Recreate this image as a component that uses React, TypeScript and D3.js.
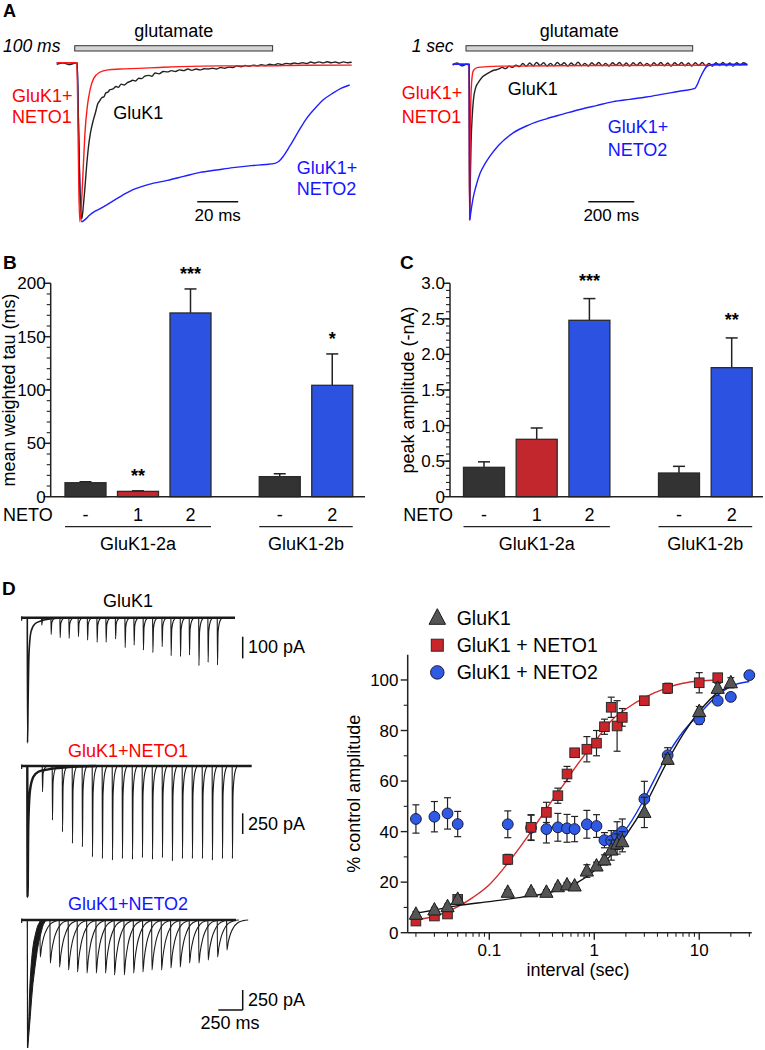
import React from 'react';
import * as d3 from 'd3';

const FONT = "'Liberation Sans', Arial, Helvetica, sans-serif";
const RED_TRACE = '#ff1a1a';
const BLUE_TRACE = '#1f1fff';
const BLACK_TRACE = '#222222';
const RED_TEXT = '#ff0000';
const BLUE_TEXT = '#1414ff';
const AXIS = '#222222';

type P = [number, number];

// ================= Panel A data (time in ms, current as fraction of peak) =================
const glutamate100 = [8.8, 105.4];
const glutamate1s = [57.8, 1043.5];
const scaleBar100 = [68.6, 88.6];
const scaleBar1s = [589.6, 789.6];

const red100: P[] = [[0, 0], [9.8, 0], [10.3, 0.3], [10.8, 0.8], [11.3, 1.0], [12, 0.9], [13, 0.65], [13.8, 0.44], [15, 0.27], [16.3, 0.17], [18, 0.1], [21, 0.06], [25, 0.045], [31, 0.04], [40, 0.036], [50, 0.03], [60, 0.025], [80, 0.02], [100, 0.02], [120, 0.016], [144, 0.015]];
const black100: P[] = [[0, 0.01], [3, 0], [6, 0.012], [9, 0.002], [10, 0], [10.5, 0.3], [11.5, 0.85], [12.3, 0.98], [13, 0.9], [14, 0.75], [14.6, 0.65], [15.5, 0.53], [16.5, 0.44], [17.9, 0.36], [19, 0.31], [20, 0.26], [21, 0.24], [22, 0.22], [23, 0.215], [24, 0.19], [25, 0.185], [26, 0.17], [27.5, 0.165], [29, 0.15], [30, 0.155], [31.5, 0.135], [33, 0.14], [34.5, 0.125], [36, 0.118], [37, 0.11], [38.5, 0.115], [40, 0.098], [41.5, 0.1], [43, 0.085], [45, 0.08], [46.5, 0.085], [48, 0.065], [50, 0.07], [52, 0.055], [54, 0.058], [56, 0.05], [58, 0.055], [60, 0.045], [62, 0.05], [64, 0.04], [66, 0.048], [68, 0.04], [70, 0.045], [72, 0.038], [74, 0.04], [76, 0.035], [78, 0.04], [80, 0.03], [82, 0.035], [84, 0.028], [86, 0.03], [88, 0.02], [90, 0.025], [92, 0.018], [94, 0.022], [96, 0.015], [98, 0.02], [100, 0.012], [102, 0.018], [104, 0.01], [106, 0.014], [108, 0.006], [110, 0.012], [112, 0.004], [114, 0.008], [116, 0.002], [118, 0.006], [120, 0], [122, 0.005], [124, -0.004], [126, 0.002], [128, -0.005], [130, 0.001], [132, -0.006], [134, 0], [136, -0.004], [138, 0.002], [140, -0.005], [142, 0], [144, -0.003]];
const blue100: P[] = [[0, 0], [10, 0], [10.5, 0.3], [11.3, 0.8], [12.2, 1.0], [13.5, 0.99], [16, 0.96], [18, 0.94], [21, 0.92], [25, 0.89], [30, 0.85], [37, 0.8], [45, 0.765], [54, 0.74], [62, 0.715], [70, 0.69], [78, 0.675], [86, 0.66], [95, 0.647], [102, 0.64], [106.5, 0.633], [108.5, 0.62], [110.5, 0.59], [114, 0.52], [118.6, 0.42], [122, 0.35], [126.8, 0.277], [130, 0.235], [135, 0.19], [139, 0.16], [143, 0.14]];

const red1s: P[] = [[0, 0], [71.5, 0], [72.5, 0.6], [73.5, 1.0], [75, 0.7], [78, 0.3], [82, 0.12], [90, 0.04], [110, 0.02], [200, 0.012], [600, 0.008], [1000, 0.006], [1281, 0.005]];
const black1s: P[] = [[0, 0.005], [20, -0.008], [40, 0.01], [60, 0], [71, 0.004], [72.5, 0.5], [74, 0.95], [76, 0.8], [80, 0.5], [85, 0.33], [90, 0.23], [100, 0.15], [110, 0.12], [119, 0.1], [130, 0.08], [140, 0.07], [150, 0.06], [162, 0.05], [175, 0.04], [190, 0.035], [200, 0.03], [215, 0.02], [230, 0.028], [245, 0.012], [260, 0.02], [275, 0.005], [290, 0.015], [305, -0.005], [320, 0.012], [335, -0.008], [350, 0.01], [365, -0.012], [380, 0.008], [395, -0.01], [410, 0.012], [425, -0.006], [440, 0.01], [455, -0.012], [470, 0.006], [485, -0.01], [500, 0.012], [515, -0.008], [530, 0.008], [545, -0.014], [560, 0.01], [575, -0.006], [590, 0.012], [605, -0.01], [620, 0.008], [635, -0.012], [650, 0.01], [665, -0.006], [680, 0.012], [695, -0.01], [710, 0.006], [725, -0.012], [740, 0.01], [755, -0.008], [770, 0.012], [785, -0.01], [800, 0.008], [815, -0.012], [830, 0.01], [845, -0.006], [860, 0.012], [875, -0.01], [890, 0.008], [905, -0.012], [920, 0.01], [935, -0.008], [950, 0.012], [965, -0.01], [980, 0.006], [995, -0.012], [1010, 0.01], [1025, -0.008], [1040, 0.012], [1055, -0.01], [1070, 0.008], [1085, -0.012], [1100, 0.01], [1115, -0.006], [1130, 0.012], [1145, -0.01], [1160, 0.008], [1175, -0.012], [1190, 0.01], [1205, -0.008], [1220, 0.012], [1235, -0.01], [1250, 0.006], [1265, -0.01], [1281, 0.004]];
const blue1s: P[] = [[0, 0], [72, 0], [73, 0.6], [74, 1.0], [78, 0.96], [84, 0.9], [90, 0.85], [100, 0.79], [119, 0.7], [140, 0.64], [162, 0.59], [200, 0.52], [263, 0.44], [330, 0.39], [408, 0.35], [480, 0.32], [553, 0.29], [625, 0.265], [698, 0.24], [770, 0.225], [843, 0.21], [920, 0.19], [1000, 0.17], [1053, 0.155], [1060, 0.14], [1075, 0.09], [1090, 0.045], [1104, 0.015], [1120, 0.005], [1140, 0], [1281, 0]];

// ================= Panels B & C data =================
const netoLabels = ['-', '1', '2', '-', '2'];
const barGroups = ['a', 'a', 'a', 'b', 'b'];
const groupNames: Record<string, string> = { a: 'GluK1-2a', b: 'GluK1-2b' };
const tauMean = [13.1, 5.0, 172.2, 18.8, 104.4];
const tauSem = [0.9, 0.5, 22.5, 2.7, 29.4];
const tauStars = ['', '**', '***', '', '*'];
const ampMean = [0.413, 0.807, 2.48, 0.333, 1.814];
const ampSem = [0.077, 0.159, 0.305, 0.094, 0.418];
const ampStars = ['', '', '***', '', '**'];
const tauTicks = [0, 50, 100, 150, 200];
const ampTicks = [0, 0.5, 1.0, 1.5, 2.0, 2.5, 3.0];
const BAR_COLORS: Record<string, string> = { '-': '#333333', '1': '#c1272d', '2': '#2b52e0' };

// ================= Panel D data =================
const intervals = [0.02, 0.03, 0.04, 0.05, 0.15, 0.25, 0.35, 0.45, 0.55, 0.65, 0.85, 1.05, 1.25, 1.45, 1.65, 1.85, 3, 5, 10, 15, 20, 30];
const gluk1Amp = [7.3, 9.0, 10.3, 13.2, 16.0, 16.2, 16.0, 18.2, 18.9, 18.5, 24.4, 26.4, 28.8, 32.7, 35.1, 36.0, 47.6, 68.6, 87.5, 96.7, 98.9, null];
const gluk1Err = [1, 1, 1, 1, 1, 1, 1, 1, 1, 1, 2.5, 1.5, 2, 4, 4, 4, 6, 2, 2, 2, 2, null];
const neto1Amp = [4.6, 6.6, 7.4, 13.2, 29.0, 41.7, 47.6, 54.2, 62.8, 71.2, 72.6, 75.0, 81.5, 89.2, 81.8, 85.2, 91.8, 96.7, 98.9, 100.9, null, null];
const neto1Err = [1, 1, 1, 1.5, 2, 5, 4, 3, 3, 1, 5, 5, 3, 4, 10, 3.5, 1, 2, 4, 1, null, null];
const neto2Amp = [45.0, 45.9, 47.2, 43.0, 42.9, 41.5, 41.0, 41.7, 41.3, 41.0, 42.9, 42.2, 36.6, 36.4, 38.4, 40.0, 52.9, 70.2, 84.4, 91.8, 93.3, 101.9];
const neto2Err = [5.6, 6, 6.2, 5, 5.3, 5, 5.5, 5.5, 5.5, 5, 5.5, 4.5, 3, 4, 5.5, 5, 7, 3, 2, 1, 1, 0.5];

const fitNeto1X = [0.019, 0.03, 0.04, 0.05, 0.07, 0.1, 0.15, 0.25, 0.35, 0.45, 0.55, 0.65, 0.85, 1.05, 1.5, 2, 3, 5, 7, 10, 15];
const fitNeto1Y = [5, 6.5, 8.3, 10.3, 14, 19, 27.5, 40, 49, 55.5, 60.5, 65, 71.5, 76.5, 84.5, 88.5, 93, 97, 98.7, 99.6, 100];
const fitGluk1X = [0.019, 0.03, 0.05, 0.1, 0.2, 0.35, 0.5, 0.7, 1, 1.5, 2, 3, 5, 7, 10, 15, 20];
const fitGluk1Y = [7.5, 9, 10.7, 12.3, 14, 15.6, 17.5, 20, 24.5, 31.5, 38.5, 50, 68, 78.5, 87.5, 95, 97.5];
const fitNeto2X = [1.8, 2, 3, 5, 7, 10, 15, 20, 30];
const fitNeto2Y = [39, 41, 53, 70.5, 79.5, 86.5, 94, 97.5, 99.4];

// traces in D (time ms relative to conditioning pulse, current in pA)
const dPulse1 = [145, 241, 333, 425, 520, 614, 712, 804, 901, 999, 1091, 1186, 1283, 1378, 1470, 1566, 1658, 1755, 1849, 1945];
const dAmp1 = [34, 77, 92, 95, 87, 103, 113, 113, 98, 138, 126, 149, 161, 133, 175, 179, 172, 221, 205, 218];
const dDecay1: P[] = [[-2, 0], [0.5, 577], [6, 400], [15, 172], [36, 64], [77, 28], [145, 14], [250, 5], [400, 0]];
const dPulse2 = [152, 254, 357, 459, 561, 664, 766, 869, 971, 1074, 1176, 1279, 1381, 1483, 1586, 1688, 1791, 1893, 1996, 2098];
const dAmp2 = [311, 653, 795, 935, 976, 1097, 1117, 1137, 1117, 1127, 1107, 1127, 1107, 1147, 1117, 1117, 1117, 1137, 1117, 1117];
const dDecay2: P[] = [[-2, 0], [1, 1580], [8, 734], [26, 290], [59, 133], [111, 69], [213, 40], [400, 15], [700, 0]];
const dPulse3 = [128, 231, 326, 418, 510, 607, 702, 797, 889, 989, 1085, 1180, 1273, 1371, 1467, 1562, 1658, 1754, 1849, 1945, 2041];
const dAmp3 = [463, 538, 588, 625, 650, 663, 663, 663, 688, 688, 663, 650, 625, 625, 600, 588, 538, 538, 500, 463, 375];
const dBand3Amp = [1600, 1413, 588, 163, 21, 0];
const dBand3Fast = [0.5, 8, 36, 84, 128, 159];
const dBand3Slow = [1.5, 15, 77, 138, 179, 210];
const dTraceEnd = [2126, 2297, 2136];

// ================= helpers =================
function mkLine(x: (v: number) => number, y: (v: number) => number) {
  return d3.line<P>().x(d => x(d[0])).y(d => y(d[1])).curve(d3.curveMonotoneX);
}

function TracePanel(props: any) {
  const { x0, x1, tMax, base, peak, glut, sbar, traces, timeLabel, timeLabelX, sbarLabel } = props;
  const x = d3.scaleLinear().domain([0, tMax]).range([x0, x1]);
  const y = d3.scaleLinear().domain([0, 1]).range([base, peak]);
  const line = mkLine(x, y);
  return (
    <g>
      <text x={timeLabelX} y={52} fontSize={17.5} fontStyle="italic">{timeLabel}</text>
      <rect x={x(glut[0])} y={45.7} width={x(glut[1]) - x(glut[0])} height={5.3} fill="#d4d4d4" stroke="#333" strokeWidth={1} />
      <text x={(x(glut[0]) + x(glut[1])) / 2} y={37} fontSize={18} textAnchor="middle">glutamate</text>
      {traces.map((t: any, i: number) => (
        <path key={i} d={line(t.data) || ''} fill="none" stroke={t.color} strokeWidth={1.4} strokeLinejoin="round" />
      ))}
      <line x1={x(sbar[0])} x2={x(sbar[1])} y1={201.7} y2={201.7} stroke="#111" strokeWidth={1.5} />
      <text x={(x(sbar[0]) + x(sbar[1])) / 2} y={221} fontSize={17} textAnchor="middle">{sbarLabel}</text>
    </g>
  );
}

function BarPanel(props: any) {
  const { axisX, axisEnd, yMax, ticks, minorStep, fmt, means, sems, stars, firstCenter, slotW, title, titleX, netoX, starGap } = props;
  const y = d3.scaleLinear().domain([0, yMax]).range([496.7, 283.3]);
  const slot = (i: number) => i + (barGroups[i] === 'b' ? 0.7 : 0);
  const xc = d3.scaleLinear().domain([0, 1]).range([firstCenter, firstCenter + slotW]);
  const bw = 41;
  const minor = d3.range(0, yMax + 1e-6, minorStep);
  const groups = Array.from(new Set(barGroups));
  return (
    <g>
      {minor.map((v, i) => (
        <line key={'m' + i} x1={axisX - 4} x2={axisX} y1={y(v)} y2={y(v)} stroke={AXIS} strokeWidth={1.1} />
      ))}
      {ticks.map((v: number, i: number) => (
        <g key={'t' + i}>
          <line x1={axisX - 7} x2={axisX} y1={y(v)} y2={y(v)} stroke={AXIS} strokeWidth={1.4} />
          <text x={axisX - 5} y={y(v) + 6} fontSize={17} textAnchor="end">{fmt(v)}</text>
        </g>
      ))}
      <text transform={`translate(${titleX},${(283.3 + 496.7) / 2}) rotate(-90)`} fontSize={18} textAnchor="middle">{title}</text>
      {means.map((m: number, i: number) => {
        const cx = xc(slot(i));
        const top = y(m + sems[i]);
        return (
          <g key={'b' + i}>
            <line x1={cx} x2={cx} y1={y(m)} y2={top} stroke="#222" strokeWidth={1.5} />
            <line x1={cx - 6} x2={cx + 6} y1={top} y2={top} stroke="#222" strokeWidth={1.5} />
            <rect x={cx - bw / 2} y={y(m)} width={bw} height={y(0) - y(m)} fill={BAR_COLORS[netoLabels[i]]} stroke="#2a2a2a" strokeWidth={1.3} />
            {stars[i] ? (
              <text x={cx} y={top - starGap} fontSize={18} fontWeight="bold" textAnchor="middle">{stars[i]}</text>
            ) : null}
            <text x={cx} y={520.7} fontSize={18} textAnchor="middle">{netoLabels[i]}</text>
          </g>
        );
      })}
      <line x1={axisX} x2={axisX} y1={283.3} y2={496.7} stroke={AXIS} strokeWidth={1.5} />
      <line x1={axisX} x2={axisEnd} y1={496.7} y2={496.7} stroke={AXIS} strokeWidth={1.5} />
      <text x={netoX} y={520.7} fontSize={18}>NETO</text>
      {groups.map(g => {
        const idx = barGroups.map((b, i) => (b === g ? i : -1)).filter(i => i >= 0);
        const l = xc(slot(idx[0])) - bw / 2;
        const r = xc(slot(idx[idx.length - 1])) + bw / 2;
        return (
          <g key={g}>
            <line x1={l} x2={r} y1={526.7} y2={526.7} stroke="#222" strokeWidth={1.3} />
            <text x={(l + r) / 2} y={550} fontSize={18} textAnchor="middle">{groupNames[g]}</text>
          </g>
        );
      })}
    </g>
  );
}

function triPath(cx: number, cy: number, s: number) {
  return `M${cx},${cy - s * 0.62}L${cx + s * 0.55},${cy + s * 0.42}L${cx - s * 0.55},${cy + s * 0.42}Z`;
}

function Marker({ kind, cx, cy, big }: any) {
  const k = big ? 1.25 : 1;
  if (kind === 'tri') return <path d={triPath(cx, cy, 12 * k)} fill="#555555" stroke="#1a1a1a" strokeWidth={1} />;
  if (kind === 'sq') return <rect x={cx - 4.8 * k} y={cy - 4.8 * k} width={9.6 * k} height={9.6 * k} fill="#c9252b" stroke="#2a2a2a" strokeWidth={1} />;
  return <circle cx={cx} cy={cy} r={5.4 * k} fill="#2f5ae4" stroke="#1a1a40" strokeWidth={1} />;
}

function Scatter() {
  const xs = d3.scaleLog().domain([0.0167, 31.6]).range([407.7, 751.7]);
  const ys = d3.scaleLinear().domain([0, 110]).range([932.7, 654.7]);
  const fitLine = d3.line<P>().x(d => xs(d[0])).y(d => ys(d[1])).curve(d3.curveMonotoneX);
  const majors = [0.1, 1, 10];
  const minors: number[] = [];
  [0.01, 0.1, 1, 10].forEach(dec => {
    for (let k = 2; k <= 9; k++) {
      const v = dec * k;
      if (v >= 0.0167 && v <= 31.6) minors.push(v);
    }
  });
  const yMajor = [0, 20, 40, 60, 80, 100];
  const yMinor = [10, 30, 50, 70, 90];
  const series = [
    { kind: 'circ', amp: neto2Amp, err: neto2Err },
    { kind: 'sq', amp: neto1Amp, err: neto1Err },
    { kind: 'tri', amp: gluk1Amp, err: gluk1Err },
  ];
  const zip = (a: number[], b: number[]) => a.map((v, i) => [v, b[i]] as P);
  const legend = [
    { kind: 'tri', label: 'GluK1' },
    { kind: 'sq', label: 'GluK1 + NETO1' },
    { kind: 'circ', label: 'GluK1 + NETO2' },
  ];
  return (
    <g>
      <line x1={407.7} x2={407.7} y1={654.7} y2={932.7} stroke={AXIS} strokeWidth={1.5} />
      <line x1={407.7} x2={751.7} y1={932.7} y2={932.7} stroke={AXIS} strokeWidth={1.5} />
      {yMajor.map(v => (
        <g key={'ym' + v}>
          <line x1={400.7} x2={407.7} y1={ys(v)} y2={ys(v)} stroke={AXIS} strokeWidth={1.4} />
          <text x={398.5} y={ys(v) + 6} fontSize={17} textAnchor="end">{v}</text>
        </g>
      ))}
      {yMinor.map(v => (
        <line key={'yn' + v} x1={403.7} x2={407.7} y1={ys(v)} y2={ys(v)} stroke={AXIS} strokeWidth={1.1} />
      ))}
      {majors.map(v => (
        <g key={'xm' + v}>
          <line x1={xs(v)} x2={xs(v)} y1={932.7} y2={939.7} stroke={AXIS} strokeWidth={1.4} />
          <text x={xs(v)} y={955.5} fontSize={17} textAnchor="middle">{v}</text>
        </g>
      ))}
      {minors.map((v, i) => (
        <line key={'xn' + i} x1={xs(v)} x2={xs(v)} y1={932.7} y2={936.7} stroke={AXIS} strokeWidth={1.1} />
      ))}
      <text x={578} y={975.5} fontSize={18} textAnchor="middle">interval (sec)</text>
      <text transform={`translate(360,${(654.7 + 932.7) / 2}) rotate(-90)`} fontSize={18} textAnchor="middle">% control amplitude</text>
      <path d={fitLine(zip(fitNeto2X, fitNeto2Y)) || ''} fill="none" stroke="#1030e8" strokeWidth={1.4} />
      <path d={fitLine(zip(fitNeto1X, fitNeto1Y)) || ''} fill="none" stroke="#d42a2a" strokeWidth={1.4} />
      <path d={fitLine(zip(fitGluk1X, fitGluk1Y)) || ''} fill="none" stroke="#111" strokeWidth={1.4} />
      {series.map(s => (
        <g key={s.kind}>
          {intervals.map((t, i) => {
            const a = s.amp[i];
            if (a == null) return null;
            const e = s.err[i] || 0;
            const cx = xs(t);
            return (
              <g key={i}>
                <line x1={cx} x2={cx} y1={ys(a - e)} y2={ys(a + e)} stroke="#222" strokeWidth={1.2} />
                <line x1={cx - 3.5} x2={cx + 3.5} y1={ys(a - e)} y2={ys(a - e)} stroke="#222" strokeWidth={1.2} />
                <line x1={cx - 3.5} x2={cx + 3.5} y1={ys(a + e)} y2={ys(a + e)} stroke="#222" strokeWidth={1.2} />
              </g>
            );
          })}
          {intervals.map((t, i) => {
            const a = s.amp[i];
            if (a == null) return null;
            return <Marker key={'mk' + i} kind={s.kind} cx={xs(t)} cy={ys(a)} />;
          })}
        </g>
      ))}
      {legend.map((l, i) => (
        <g key={l.label}>
          <Marker kind={l.kind} cx={437.3} cy={618 + i * 27.2} big />
          <text x={456.7} y={618 + i * 27.2 + 6.8} fontSize={19.5}>{l.label}</text>
        </g>
      ))}
    </g>
  );
}

function DTraces() {
  const xt = d3.scaleLinear().domain([0, 1000]).range([27.5, 125.1]);
  const yScales = [
    d3.scaleLinear().domain([0, 100]).range([617.7, 639.4]),
    d3.scaleLinear().domain([0, 250]).range([766, 786.7]),
    d3.scaleLinear().domain([0, 250]).range([920, 940]),
  ];
  const fastShape: P[] = [[-1, 0], [1.5, 1], [8, 0.3], [25, 0.08], [50, 0]];
  const slowShape: P[] = [[-1, 0], [2, 1], [15, 0.75], [40, 0.45], [70, 0.25], [110, 0.1], [170, 0.02], [220, 0]];
  const spikes = (times: number[], amps: number[], shape: P[]) =>
    times.map((t, i) => shape.map(([dt, f]) => [t + dt, amps[i] * f] as P));
  const sets = [
    { times: dPulse1, amps: dAmp1, shape: fastShape, decay: dDecay1 },
    { times: dPulse2, amps: dAmp2, shape: fastShape, decay: dDecay2 },
    { times: dPulse3, amps: dAmp3, shape: slowShape, decay: null },
  ];
  const y3 = yScales[2];
  const band = d3.area<number>()
    .y(i => y3(dBand3Amp[i]))
    .x0(i => xt(dBand3Fast[i]))
    .x1(i => xt(dBand3Slow[i]))
    .curve(d3.curveMonotoneY);
  const titles = [
    { label: 'GluK1', color: '#000', y: 606.7 },
    { label: 'GluK1+NETO1', color: RED_TEXT, y: 757.3 },
    { label: 'GluK1+NETO2', color: BLUE_TEXT, y: 910 },
  ];
  const sbarX = 242.7;
  const len100 = yScales[0](100) - yScales[0](0);
  const len250 = yScales[1](250) - yScales[1](0);
  const len250b = yScales[2](250) - yScales[2](0);
  const len250ms = xt(250) - xt(0);
  return (
    <g>
      {titles.map(t => (
        <text key={t.label} x={128} y={t.y} fontSize={18} fill={t.color} textAnchor="middle">{t.label}</text>
      ))}
      {sets.map((s, k) => {
        const line = mkLine(xt, yScales[k]);
        return (
          <g key={k}>
            <path d={line([[-60, 0], [dTraceEnd[k], 0]]) || ''} stroke="#1a1a1a" strokeWidth={2.6} fill="none" />
            <line x1={xt(-60)} x2={xt(-60)} y1={yScales[k](0) - 1.5} y2={yScales[k](0) + 3} stroke="#1a1a1a" strokeWidth={1.2} />
            {s.decay ? (
              <path d={line(s.decay) || ''} stroke="#1a1a1a" strokeWidth={k === 1 ? 2.4 : 1.6} fill="none" />
            ) : null}
            {spikes(s.times, s.amps, s.shape).map((sp, i) => (
              <path key={i} d={line(sp) || ''} stroke="#1a1a1a" strokeWidth={1.1} fill="none" />
            ))}
          </g>
        );
      })}
      <path d={band(d3.range(dBand3Amp.length)) || ''} fill="#1a1a1a" stroke="#1a1a1a" strokeWidth={1} />
      <line x1={xt(-2)} x2={xt(0.5)} y1={y3(0)} y2={y3(1600)} stroke="#1a1a1a" strokeWidth={1.2} />
      <line x1={sbarX} x2={sbarX} y1={636.7} y2={636.7 + len100} stroke="#111" strokeWidth={1.5} />
      <text x={248} y={652.5} fontSize={18}>100 pA</text>
      <line x1={sbarX} x2={sbarX} y1={813.3} y2={813.3 + len250} stroke="#111" strokeWidth={1.5} />
      <text x={248} y={829.5} fontSize={18}>250 pA</text>
      <line x1={sbarX} x2={sbarX} y1={1010 - len250b} y2={1010} stroke="#111" strokeWidth={1.5} />
      <line x1={sbarX - len250ms} x2={sbarX} y1={1010} y2={1010} stroke="#111" strokeWidth={1.5} />
      <text x={248} y={1005.5} fontSize={18}>250 pA</text>
      <text x={230} y={1029} fontSize={18} textAnchor="middle">250 ms</text>
    </g>
  );
}

export default function App() {
  return (
    <svg width={765} height={1050} style={{ position: 'absolute', left: 0, top: 0, background: '#fff' }} fontFamily={FONT}>
      <rect x={0} y={0} width={765} height={1050} fill="#fff" />
      <text x={3} y={17} fontSize={18} fontWeight="bold">A</text>
      <text x={3} y={268.5} fontSize={19} fontWeight="bold">B</text>
      <text x={400} y={268.5} fontSize={19} fontWeight="bold">C</text>
      <text x={2} y={595} fontSize={19} fontWeight="bold">D</text>

      <TracePanel x0={56.7} x1={351.7} tMax={144} base={62.7} peak={221.7} glut={glutamate100} sbar={scaleBar100}
        timeLabel="100 ms" timeLabelX={3} sbarLabel="20 ms"
        traces={[{ data: blue100, color: BLUE_TRACE }, { data: black100, color: BLACK_TRACE }, { data: red100, color: RED_TRACE }]} />
      <text x={12} y={101.7} fontSize={18} fill={RED_TEXT}>GluK1+</text>
      <text x={12} y={122.7} fontSize={18} fill={RED_TEXT}>NETO1</text>
      <text x={113.3} y={119} fontSize={18}>GluK1</text>
      <text x={296.7} y={174} fontSize={18} fill={BLUE_TEXT}>GluK1+</text>
      <text x={296.7} y={195} fontSize={18} fill={BLUE_TEXT}>NETO2</text>

      <TracePanel x0={452.7} x1={747.3} tMax={1281} base={64.3} peak={220} glut={glutamate1s} sbar={scaleBar1s}
        timeLabel="1 sec" timeLabelX={411.7} sbarLabel="200 ms"
        traces={[{ data: black1s, color: BLACK_TRACE }, { data: red1s, color: RED_TRACE }, { data: blue1s, color: BLUE_TRACE }]} />
      <text x={401.7} y={99.3} fontSize={18} fill={RED_TEXT}>GluK1+</text>
      <text x={401.7} y={122.7} fontSize={18} fill={RED_TEXT}>NETO1</text>
      <text x={507.7} y={95} fontSize={18}>GluK1</text>
      <text x={607.7} y={133.3} fontSize={18} fill={BLUE_TEXT}>GluK1+</text>
      <text x={607.7} y={155.7} fontSize={18} fill={BLUE_TEXT}>NETO2</text>

      <BarPanel axisX={50.7} axisEnd={365} yMax={200} ticks={tauTicks} minorStep={10} fmt={(v: number) => String(v)}
        means={tauMean} sems={tauSem} stars={tauStars} firstCenter={85.5} slotW={52.5}
        title="mean weighted tau (ms)" titleX={15} netoX={3} starGap={9} />
      <BarPanel axisX={450} axisEnd={763} yMax={3} ticks={ampTicks} minorStep={0.1} fmt={(v: number) => (v === 0 ? '0' : v.toFixed(1))}
        means={ampMean} sems={ampSem} stars={ampStars} firstCenter={484} slotW={52.7}
        title="peak amplitude (-nA)" titleX={413.5} netoX={403.3} starGap={12} />

      <DTraces />
      <Scatter />
    </svg>
  );
}
